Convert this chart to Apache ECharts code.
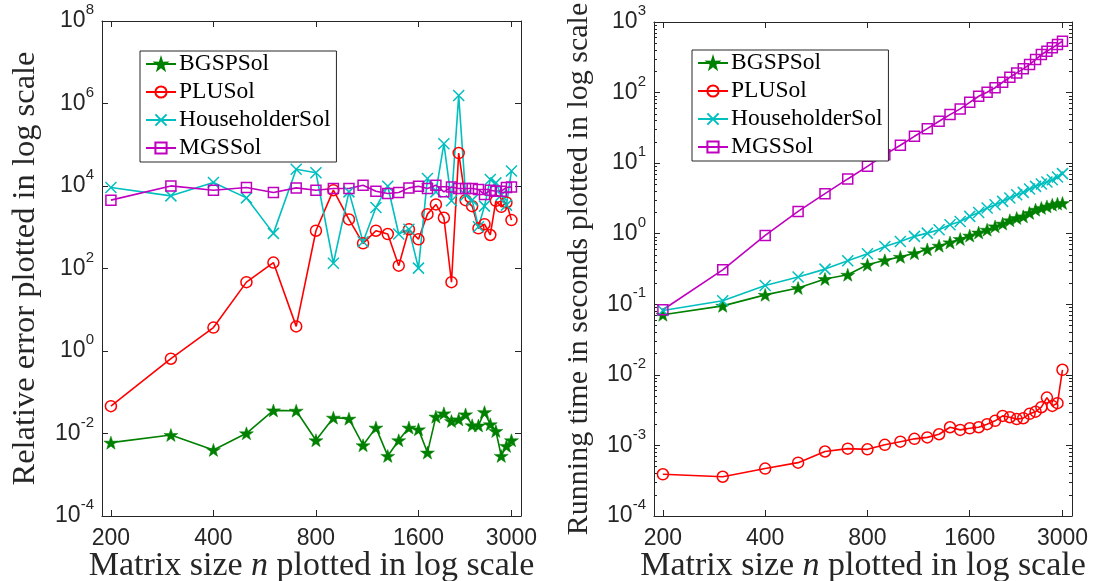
<!DOCTYPE html>
<html><head><meta charset="utf-8">
<script src="https://cdn.jsdelivr.net/npm/echarts@6/dist/echarts.min.js"></script>
<style>html,body{margin:0;padding:0;background:#fff}#c{width:1096px;height:581px}</style>
</head><body><div id="c"></div>
<script>
// ---------- data ----------
const sizes = [200,300,400,500,600,700,800,900,1000,1100,1200,1300,1400,1500,1600,1700,1800,1900,2000,2100,2200,2300,2400,2500,2600,2700,2800,2900,3000];
const xTickValues = [200,400,800,1600,3000];
const timeMinorTicks = [2e-4,3e-4,4e-4,5e-4,6e-4,7e-4,8e-4,9e-4,2e-3,3e-3,4e-3,5e-3,6e-3,7e-3,8e-3,9e-3,2e-2,3e-2,4e-2,5e-2,6e-2,7e-2,8e-2,9e-2,0.2,0.3,0.4,0.5,0.6,0.7,0.8,0.9,2,3,4,5,6,7,8,9,20,30,40,50,60,70,80,90,200,300,400,500,600,700,800,900];
const seriesNames = ['BGSPSol','PLUSol','HouseholderSol','MGSSol'];

const errBGSP = [0.006,0.0092,0.004,0.0101,0.0363,0.0357,0.00686,0.0242,0.0229,0.00519,0.0139,0.00286,0.00686,0.0139,0.0126,0.00345,0.0256,0.0308,0.02,0.022,0.0291,0.0158,0.0156,0.033,0.0167,0.0115,0.00286,0.005,0.00686];
const errPLU  = [0.046,0.65,3.7,46.7,139,3.95,824,7920,1550,408,824,685,117,890,510,2080,3570,1700,46.7,63000,4540,3250,940,1190,649,4370,3130,3990,1490];
const errHH   = [9200,5770,12200,5160,711,25500,21000,134,7210,447,3020,9890,685,890,102,15200,7210,106000,4370,1560000,6000,4540,1030,3250,14400,11900,6000,3440,23200];
const errMGS  = [4540,10050,7920,9200,6970,9000,7920,8710,8710,10450,7490,6580,6970,9000,9890,8710,10450,7210,9500,8710,8710,8710,8200,6230,7920,7490,7490,9200,9500];

const timeBGSP = [0.071,0.095,0.136,0.17,0.228,0.262,0.363,0.42,0.47,0.53,0.6,0.676,0.753,0.84,0.94,1.04,1.14,1.27,1.39,1.55,1.67,1.76,1.97,2.19,2.32,2.44,2.58,2.67,2.72];
const timePLU  = [0.00039,0.00036,0.00047,0.00057,0.00082,0.0009,0.00088,0.00102,0.00113,0.00124,0.0013,0.00144,0.00181,0.00166,0.00175,0.00181,0.002,0.00223,0.00262,0.00251,0.00236,0.00243,0.0028,0.00301,0.00348,0.00476,0.00363,0.00397,0.0118];
const timeHH   = [0.0817,0.112,0.185,0.243,0.315,0.414,0.52,0.66,0.778,0.917,1.02,1.14,1.34,1.49,1.76,2.0,2.32,2.58,2.87,3.21,3.57,3.85,4.3,4.69,5.07,5.41,5.83,6.37,7.1];
const timeMGS  = [0.0836,0.308,0.946,2.07,3.69,5.97,9.0,13.2,17.9,24,30.8,39.2,48.7,58.7,72.8,88.7,101,117,140,165,190,217,250,294,346,385,430,480,535];

// ---------- styles ----------
const AX = '#262626';
const SANS = "'Liberation Sans', Arial, Helvetica, sans-serif";
const SERIF = "'Liberation Serif', 'Times New Roman', serif";
const GREEN = '#008000', RED = '#ff0000', CYAN = '#00bfbf', MAG = '#bf00bf';
const STAR = 'path://M50,0 L61.8,35.1 L98.9,34.5 L69.1,56.7 L79.4,90.5 L50,70 L20.6,90.5 L30.9,56.7 L1.1,34.5 L38.2,35.1 Z';
const XMARK = 'path://M0,0 L10,10 M10,0 L0,10';

const pairs = arr => sizes.map((n, i) => [n, arr[i]]);
const powLabel = v => {
  const e = Math.round(Math.log10(v));
  return '{b|10}{s|' + e + '}';
};
const richLab = {
  b: {fontSize: 23, fontFamily: SANS, color: AX},
  s: {fontSize: 15, fontFamily: SANS, color: AX, padding: [0, 0, 22, 0]}
};
const XMIN = 188.3, XMAX = 3200;

function xAxes(g) {
  const base = {
    type: 'log', gridIndex: g, min: XMIN, max: XMAX,
    axisLine: {show: true, onZero: false, lineStyle: {color: AX, width: 1}},
    axisTick: {show: true, inside: true, length: 6, customValues: xTickValues, lineStyle: {color: AX}},
    splitLine: {show: false}, minorTick: {show: false}
  };
  return [
    Object.assign({}, base, {
      position: 'bottom',
      axisLabel: {show: true, customValues: xTickValues, formatter: v => String(Math.round(v)), margin: 11,
        fontSize: 23, fontFamily: SANS, color: AX},
      name: 'Matrix size {i|n} plotted in log scale', nameLocation: 'middle', nameGap: 33,
      nameMoveOverlap: false,
      nameTextStyle: {fontSize: 34, fontFamily: SERIF, color: AX,
        rich: {i: {fontSize: 34, fontFamily: SERIF, fontStyle: 'italic', color: AX}}}
    }),
    Object.assign({}, base, {position: 'top', axisLabel: {show: false}})
  ];
}

const option = {
  animation: false,
  backgroundColor: '#fff',
  grid: [
    {left: 102, top: 21, width: 419, height: 495, outerBoundsMode: 'none', containLabel: false},
    {left: 654, top: 22, width: 418, height: 494, outerBoundsMode: 'none', containLabel: false}
  ],
  xAxis: [].concat(xAxes(0), xAxes(1)),
  yAxis: [
    {type: 'log', logBase: 100, gridIndex: 0, position: 'left', min: 1e-4, max: 1e8,
     axisLine: {show: true, onZero: false, lineStyle: {color: AX}},
     axisTick: {inside: true, length: 6, lineStyle: {color: AX}},
     axisLabel: {formatter: powLabel, rich: richLab, margin: 8},
     splitLine: {show: false},
     name: 'Relative error plotted in log scale', nameLocation: 'middle', nameGap: 60,
     nameMoveOverlap: false,
     nameTextStyle: {fontSize: 32.5, fontFamily: SERIF, color: AX}},
    {type: 'log', logBase: 100, gridIndex: 0, position: 'right', min: 1e-4, max: 1e8,
     axisLine: {show: true, onZero: false, lineStyle: {color: AX}},
     axisTick: {inside: true, length: 6, lineStyle: {color: AX}},
     axisLabel: {show: false}, splitLine: {show: false}},
    {type: 'log', gridIndex: 1, position: 'left', min: 1e-4, max: 1e3,
     axisLine: {show: true, onZero: false, lineStyle: {color: AX}},
     axisTick: {inside: true, length: 6, lineStyle: {color: AX}},
     axisLabel: {formatter: powLabel, rich: richLab, margin: 8},
     splitLine: {show: false},
     name: 'Running time in seconds plotted in log scale', nameLocation: 'middle', nameGap: 60,
     nameMoveOverlap: false,
     nameTextStyle: {fontSize: 30, fontFamily: SERIF, color: AX}},
    {type: 'log', gridIndex: 1, position: 'right', min: 1e-4, max: 1e3,
     axisLine: {show: true, onZero: false, lineStyle: {color: AX}},
     axisTick: {inside: true, length: 6, lineStyle: {color: AX}},
     axisLabel: {show: false}, splitLine: {show: false}},
    {type: 'log', gridIndex: 1, position: 'left', min: 1e-4, max: 1e3,
     axisLine: {show: false, onZero: false},
     axisTick: {inside: true, length: 3, customValues: timeMinorTicks, lineStyle: {color: AX}},
     axisLabel: {show: false}, splitLine: {show: false}},
    {type: 'log', gridIndex: 1, position: 'right', min: 1e-4, max: 1e3,
     axisLine: {show: false, onZero: false},
     axisTick: {inside: true, length: 3, customValues: timeMinorTicks, lineStyle: {color: AX}},
     axisLabel: {show: false}, splitLine: {show: false}}
  ],
  legend: [0, 1].map(g => ({
    show: true, orient: 'vertical', left: g === 0 ? 140 : 692, top: g === 0 ? 51 : 50,
    data: seriesNames, itemWidth: 30, itemHeight: 14, itemGap: 4,
    padding: [1, 6, 2, 5], borderColor: AX, borderWidth: 1, backgroundColor: '#fff',
    textStyle: {fontFamily: SERIF, fontSize: 23.5, color: '#000', padding: [0, 0, 0, -2]},
    selectedMode: false
  })),
  series: []
};

const styles = {
  BGSPSol: {color: GREEN, symbol: STAR, symbolSize: 14, itemStyle: {color: GREEN, borderColor: GREEN, borderWidth: 0.5}},
  PLUSol: {color: RED, symbol: 'circle', symbolSize: 11, itemStyle: {color: 'rgba(255,255,255,0)', borderColor: RED, borderWidth: 1.5}},
  HouseholderSol: {color: CYAN, symbol: XMARK, symbolSize: 11, itemStyle: {color: 'none', borderColor: CYAN, borderWidth: 1.5}},
  MGSSol: {color: MAG, symbol: 'rect', symbolSize: 10, itemStyle: {color: 'rgba(255,255,255,0)', borderColor: MAG, borderWidth: 1.5}}
};
const panels = [
  {x: 0, y: 0, data: [errBGSP, errPLU, errHH, errMGS]},
  {x: 2, y: 2, data: [timeBGSP, timePLU, timeHH, timeMGS]}
];
panels.forEach(p => {
  seriesNames.forEach((name, k) => {
    const st = styles[name];
    option.series.push({
      type: 'line', name: name, xAxisIndex: p.x, yAxisIndex: p.y,
      data: pairs(p.data[k]),
      symbol: st.symbol, symbolSize: st.symbolSize, symbolKeepAspect: true,
      showSymbol: true, showAllSymbol: true,
      lineStyle: {color: st.color, width: 1.6},
      itemStyle: st.itemStyle,
      emphasis: {disabled: true}
    });
  });
});

const chart = echarts.init(document.getElementById('c'), null, {renderer: 'canvas'});
chart.setOption(option);
</script>
</body></html>
